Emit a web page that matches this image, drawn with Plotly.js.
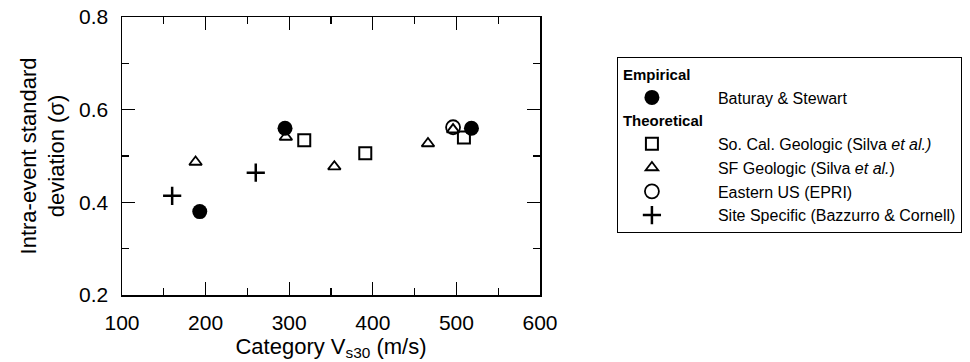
<!DOCTYPE html>
<html>
<head>
<meta charset="utf-8">
<script src="https://cdn.plot.ly/plotly-3.0.1.min.js"></script>
<style>html,body{margin:0;padding:0;background:#fff;}#chart{width:970px;height:362px;}</style>
</head>
<body>
<div id="chart"></div>
<script>
// Data
const baturayX = [193, 295, 518];
const baturayY = [0.380, 0.560, 0.560];
const soCalX = [318, 391, 509];
const soCalY = [0.534, 0.506, 0.540];
const sfX = [188, 296, 354, 466, 496];
const sfY = [0.487, 0.541, 0.477, 0.527, 0.557];
const eusX = [496];
const eusY = [0.562];
const siteX = [160, 260];
const siteY = [0.414, 0.464];
const xTicks = [100, 200, 300, 400, 500, 600];
const yTicks = [0.2, 0.4, 0.6, 0.8];

const FONT = 'Arial, "Liberation Sans", sans-serif';
const PAD = '\u2003\u2003';

const traces = [
  {x: baturayX, y: baturayY, name: PAD + 'Baturay & Stewart', mode: 'markers', type: 'scatter',
   legendgroup: 'emp', legendgrouptitle: {text: '<b>Empirical</b>', font: {size: 15, color: '#000'}},
   marker: {symbol: 'circle', size: 15, color: '#000'}},
  {x: soCalX, y: soCalY, name: PAD + 'So. Cal. Geologic (Silva <i>et al.)</i>', mode: 'markers', type: 'scatter',
   legendgroup: 'theo', legendgrouptitle: {text: '<b>Theoretical</b>', font: {size: 15, color: '#000'}},
   marker: {symbol: 'square-open', size: 12, color: '#000', line: {width: 2, color: '#000'}}},
  {x: sfX, y: sfY, name: PAD + 'SF Geologic (Silva <i>et al.</i>)', mode: 'markers', type: 'scatter',
   legendgroup: 'theo',
   marker: {symbol: 'triangle-up-open', size: 11, color: '#000', line: {width: 1.8, color: '#000'}}},
  {x: eusX, y: eusY, name: PAD + 'Eastern US (EPRI)', mode: 'markers', type: 'scatter',
   legendgroup: 'theo',
   marker: {symbol: 'circle-open', size: 14, color: '#000', line: {width: 1.8, color: '#000'}}},
  {x: siteX, y: siteY, name: PAD + 'Site Specific (Bazzurro & Cornell)', mode: 'markers', type: 'scatter',
   legendgroup: 'theo',
   marker: {symbol: 'cross-thin-open', size: 13, color: '#000', line: {width: 2.5, color: '#000'}}}
];

const layout = {
  width: 970, height: 362,
  margin: {l: 122, r: 430, t: 17, b: 67, pad: 0},
  paper_bgcolor: '#fff', plot_bgcolor: '#fff',
  font: {family: FONT, color: '#000', size: 21},
  showlegend: true,
  legend: {
    xref: 'container', yref: 'container',
    x: 0.636, y: 0.8425, xanchor: 'left', yanchor: 'top',
    bordercolor: '#000', borderwidth: 1, bgcolor: '#fff',
    font: {family: FONT, size: 16, color: '#000'},
    tracegroupgap: 0, itemwidth: 58, traceorder: 'grouped'
  },
  xaxis: {
    range: [100, 600], tickvals: xTicks, ticktext: xTicks.map(String),
    ticks: 'inside', ticklen: 13, tickwidth: 1.3, tickcolor: '#000',
    minor: {dtick: 50, ticks: 'inside', ticklen: 7, tickwidth: 1.3, tickcolor: '#000'},
    showline: true, linecolor: '#000', linewidth: 1.5, mirror: 'ticks',
    showgrid: false, zeroline: false,
    tickfont: {size: 21}, ticklabelstandoff: 8,
    title: {text: 'Category V<sub>s30</sub> (m/s)', font: {size: 22}, standoff: 0}
  },
  yaxis: {
    range: [0.2, 0.8], tickvals: yTicks, ticktext: ['0.2', '0.4', '0.6', '0.8'],
    ticks: 'inside', ticklen: 13, tickwidth: 1.3, tickcolor: '#000',
    minor: {dtick: 0.1, ticks: 'inside', ticklen: 7, tickwidth: 1.3, tickcolor: '#000'},
    showline: true, linecolor: '#000', linewidth: 1.5, mirror: 'ticks',
    showgrid: false, zeroline: false,
    tickfont: {size: 21}, ticklabelstandoff: 8,
    title: {text: 'Intra-event standard<br>deviation (σ)', font: {size: 22}, standoff: 8}
  }
};

Plotly.newPlot('chart', traces, layout, {displayModeBar: false, staticPlot: true});
</script>
</body>
</html>
